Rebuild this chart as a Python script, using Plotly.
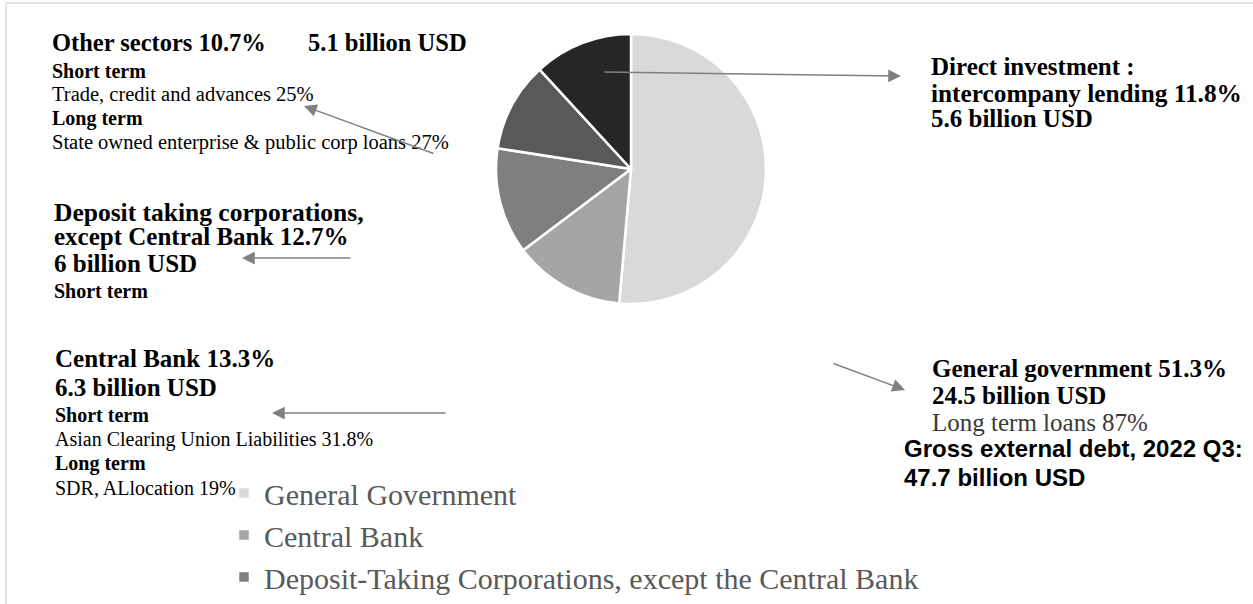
import plotly.graph_objects as go

# Gross external debt by sector, 2022 Q3 (share of total, %)
sectors = [
    "General Government",
    "Central Bank",
    "Deposit-Taking Corporations, except the Central Bank",
    "Other Sectors",
    "Direct Investment: Intercompany Lending",
]
shares = [51.3, 13.3, 12.7, 10.7, 11.8]
greys = ["#d9d9d9", "#a5a5a5", "#7f7f7f", "#595959", "#262626"]

W, H = 1253, 604


def fx(px):
    return px / W


def fy(py):
    return 1 - py / H


SERIF = "Liberation Serif"
SANS = "Liberation Sans"

fig = go.Figure()

# pie centred at (631, 169) px with a 135 px radius
cx, cy, r = 631, 169, 135
fig.add_trace(go.Pie(
    labels=sectors,
    values=shares,
    sort=False,
    direction="clockwise",
    rotation=0,
    textinfo="none",
    marker=dict(colors=greys, line=dict(color="white", width=2.5)),
    domain=dict(x=[fx(cx - r), fx(cx + r)], y=[fy(cy + r), fy(cy - r)]),
    showlegend=True,
))

annotations = []


def label(text, x, y, size, bold=False, color="#000000", family=SERIF):
    annotations.append(dict(
        text=f"<b>{text}</b>" if bold else text,
        x=fx(x), y=fy(y), xref="paper", yref="paper",
        xanchor="left", yanchor="middle", showarrow=False,
        font=dict(family=family, size=size, color=color),
    ))


def arrow(x_tail, y_tail, x_head, y_head):
    annotations.append(dict(
        text="", x=fx(x_head), y=fy(y_head), xref="paper", yref="paper",
        ax=x_tail - x_head, ay=y_tail - y_head, axref="pixel", ayref="pixel",
        showarrow=True, arrowhead=2, arrowsize=1.7, arrowwidth=1.5,
        arrowcolor="#808080", standoff=0, startstandoff=0,
    ))


# Other sectors
label("Other sectors 10.7%", 50, 42, 24.5, bold=True)
label("5.1 billion USD", 306, 42, 24.5, bold=True)
label("Short term", 50, 71, 20, bold=True)
label("Trade, credit and advances 25%", 50, 94, 20.5)
label("Long term", 50, 118, 20, bold=True)
label("State owned enterprise &amp; public corp loans 27%", 50, 143, 20.5)
arrow(435, 154, 304, 106)

# Deposit taking corporations
label("Deposit taking corporations,", 52, 212, 25.5, bold=True)
label("except Central Bank 12.7%", 52, 237, 25, bold=True)
label("6 billion USD", 52, 263, 25, bold=True)
label("Short term", 52, 291, 20, bold=True)
arrow(352, 258, 242, 258)

# Central Bank
label("Central Bank 13.3%", 53, 358, 25, bold=True)
label("6.3 billion USD", 53, 387, 25, bold=True)
label("Short term", 53, 415, 20, bold=True)
label("Asian Clearing Union Liabilities 31.8%", 53, 439, 20)
label("Long term", 53, 463, 20, bold=True)
label("SDR, ALlocation 19%", 53, 488, 20)
arrow(447, 413, 272, 413)

# Direct investment
label("Direct investment :", 929, 67, 25, bold=True)
label("intercompany lending 11.8%", 929, 93, 25.3, bold=True)
label("5.6 billion USD", 929, 118, 25, bold=True)
arrow(603, 72, 901, 76)

# General government
label("General government 51.3%", 930, 368, 25, bold=True)
label("24.5 billion USD", 930, 395, 25, bold=True)
label("Long term loans 87%", 930, 422, 25, color="#3a3a3a")
arrow(832, 363, 905, 390)

# Total
label("Gross external debt, 2022 Q3:", 902, 448, 24, bold=True, family=SANS)
label("47.7 billion USD", 902, 477, 24, bold=True, family=SANS)

# light frame around the chart area
shapes = [
    dict(type="line", xref="paper", yref="paper",
         x0=fx(6), y0=fy(3), x1=fx(W + 10), y1=fy(3),
         line=dict(color="#d9d9d9", width=1.5)),
    dict(type="line", xref="paper", yref="paper",
         x0=fx(6), y0=fy(3), x1=fx(6), y1=fy(H + 10),
         line=dict(color="#d9d9d9", width=1.5)),
]

fig.update_layout(
    width=W, height=H,
    margin=dict(l=0, r=0, t=0, b=0, pad=0, autoexpand=False),
    paper_bgcolor="white", plot_bgcolor="white",
    font=dict(family=SERIF, color="#000000"),
    annotations=annotations,
    shapes=shapes,
    legend=dict(
        x=fx(224), y=fy(467), xanchor="left", yanchor="top",
        xref="paper", yref="paper",
        font=dict(family=SERIF, size=30, color="#595959"),
        bgcolor="rgba(0,0,0,0)", traceorder="normal",
        itemclick=False, itemdoubleclick=False,
    ),
)

fig.write_html("out.html")
